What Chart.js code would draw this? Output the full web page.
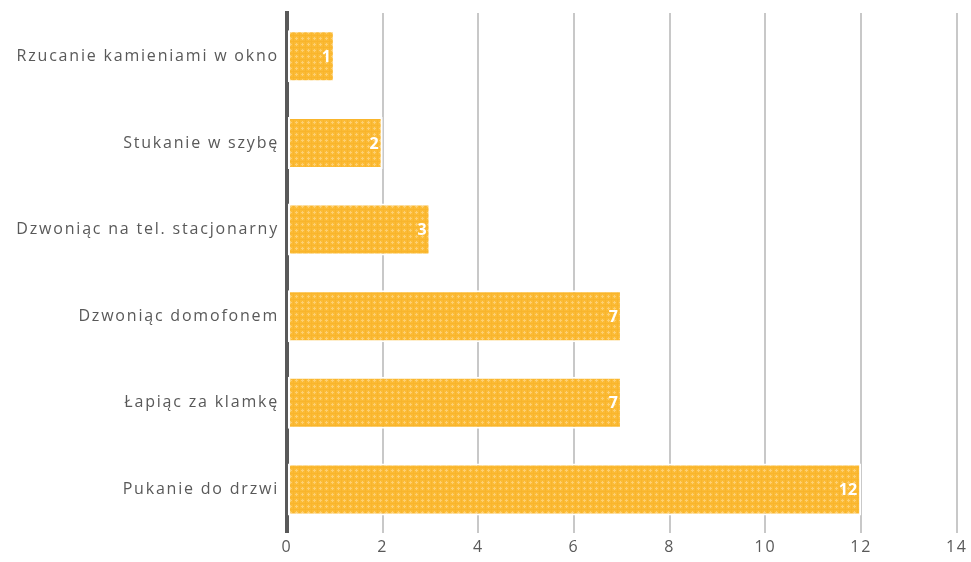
<!DOCTYPE html>
<html>
<head>
<meta charset="utf-8">
<script src="https://cdn.jsdelivr.net/npm/chart.js@4.4.0/dist/chart.umd.min.js"></script>
<style>
  html, body { margin: 0; padding: 0; background: #fff; }
  #wrap { width: 971px; height: 562px; }
</style>
</head>
<body>
<div id="wrap"><canvas id="barChart"></canvas></div>
<script>
var categories = ['Rzucanie kamieniami w okno', 'Stukanie w szybę', 'Dzwoniąc na tel. stacjonarny', 'Dzwoniąc domofonem', 'Łapiąc za klamkę', 'Pukanie do drzwi'];
var counts = [1, 2, 3, 7, 7, 12];
var xTicks = [0, 2, 4, 6, 8, 10, 12, 14];

// dotted orange fill, like the office pattern fill
function makePattern() {
    var c = document.createElement('canvas');
    c.width = 6; c.height = 6;
    var p = c.getContext('2d');
    p.fillStyle = '#fbbb36';
    p.fillRect(0, 0, 6, 6);
    p.fillStyle = '#fdcf72';
    p.fillRect(2, 1, 1, 3);
    p.fillRect(1, 2, 3, 1);
    p.fillStyle = '#f9b52c';
    p.fillRect(0, 5, 6, 1);
    p.fillRect(5, 0, 1, 6);
    return p.createPattern(c, 'repeat');
}

var spacing = {
    id: 'spacing',
    beforeDraw: function(chart) { chart.ctx.letterSpacing = '1.8px'; }
};

var valueLabels = {
    id: 'valueLabels',
    afterDatasetsDraw: function(chart) {
        var ctx = chart.ctx;
        var meta = chart.getDatasetMeta(0);
        ctx.save();
        ctx.letterSpacing = '0px';
        ctx.fillStyle = '#ffffff';
        ctx.font = 'bold 16px "Open Sans"';
        ctx.textAlign = 'right';
        ctx.textBaseline = 'middle';
        meta.data.forEach(function(bar, i) {
            ctx.fillText(counts[i], bar.x - 4, bar.y + 1);
        });
        ctx.restore();
    }
};

var ctx = document.getElementById('barChart').getContext('2d');
var barChart = new Chart(ctx, {
    type: 'bar',
    data: {
        labels: categories,
        datasets: [{
            data: counts,
            backgroundColor: makePattern(),
            borderColor: '#ffffff',
            borderWidth: 2,
            borderSkipped: false,
            barPercentage: 0.6,
            categoryPercentage: 1
        }]
    },
    options: {
        indexAxis: 'y',
        responsive: true,
        maintainAspectRatio: false,
        animation: false,
        layout: { padding: { top: 13, right: 12, left: 4, bottom: 0 } },
        plugins: {
            legend: { display: false },
            tooltip: { enabled: false }
        },
        scales: {
            x: {
                min: 0,
                max: 14,
                afterBuildTicks: function(axis) {
                    axis.ticks = xTicks.map(function(v) { return { value: v }; });
                },
                grid: { color: '#c8c8c8', lineWidth: 2, drawTicks: false },
                border: { display: false },
                ticks: {
                    color: '#595959',
                    font: { family: '"Open Sans"', size: 16 },
                    padding: 5
                }
            },
            y: {
                afterFit: function(axis) { axis.width = 283; },
                grid: { display: false },
                border: { color: '#595959', width: 4 },
                ticks: {
                    color: '#595959',
                    font: { family: '"Open Sans"', size: 16 },
                    padding: 0
                }
            }
        }
    },
    plugins: [spacing, valueLabels]
});
</script>
</body>
</html>
